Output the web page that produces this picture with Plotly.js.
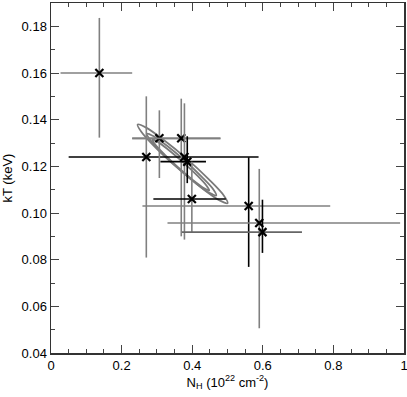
<!DOCTYPE html>
<html>
<head>
<meta charset="utf-8">
<script src="https://cdn.plot.ly/plotly-3.0.1.min.js"></script>
<style>
  body { margin: 0; background: #fff; }
  #chart { width: 407px; height: 397px; }
</style>
</head>
<body>
<div id="chart"></div>
<script>
// best-fit values with their error ranges
var nh   = [0.137, 0.270, 0.307, 0.369, 0.378, 0.386, 0.399, 0.560, 0.590, 0.599];
var nhLo = [0.027, 0.050, 0.230, 0.230, 0.378, 0.310, 0.290, 0.259, 0.330, 0.371];
var nhHi = [0.230, 0.588, 0.480, 0.480, 0.378, 0.439, 0.495, 0.791, 0.989, 0.711];
var kt   = [0.160, 0.124, 0.132, 0.132, 0.124, 0.122, 0.106, 0.103, 0.0957, 0.0918];
var ktLo = [0.1323, 0.0809, 0.115, 0.090, 0.0886, 0.1128, 0.0914, 0.0769, 0.0506, 0.0829];
var ktHi = [0.1836, 0.150, 0.144, 0.149, 0.147, 0.1329, 0.122, 0.1239, 0.1189, 0.1057];

// confidence contours (outline points)
var c1x = [0.5004, 0.4775, 0.4263, 0.3607, 0.2984, 0.2563, 0.2453, 0.2682, 0.3194, 0.3850, 0.4472, 0.4894, 0.5004];
var c1y = [0.1042, 0.1054, 0.1108, 0.1190, 0.1277, 0.1347, 0.1379, 0.1367, 0.1313, 0.1232, 0.1144, 0.1075, 0.1042];
var c2x = [0.4682, 0.4503, 0.4110, 0.3604, 0.3126, 0.2801, 0.2714, 0.2894, 0.3287, 0.3793, 0.4272, 0.4600, 0.4682];
var c2y = [0.1075, 0.1085, 0.1127, 0.1192, 0.1260, 0.1315, 0.1340, 0.1330, 0.1288, 0.1224, 0.1155, 0.1101, 0.1075];
var c3x = [0.4484, 0.4342, 0.4023, 0.3612, 0.3219, 0.2948, 0.2871, 0.3013, 0.3332, 0.3743, 0.4139, 0.4407, 0.4484];
var c3y = [0.1097, 0.1106, 0.1141, 0.1194, 0.1250, 0.1294, 0.1315, 0.1306, 0.1270, 0.1217, 0.1161, 0.1117, 0.1097];

// tick positions
var xTicks = [0, 0.2, 0.4, 0.6, 0.8, 1];
var xTickText = ["0", "0.2", "0.4", "0.6", "0.8", "1"];
var yTicks = [0.04, 0.06, 0.08, 0.10, 0.12, 0.14, 0.16, 0.18];
var yTickText = ["0.04", "0.06", "0.08", "0.10", "0.12", "0.14", "0.16", "0.18"];

// bar colours per point (style, kept apart from the values)
var gray = "#808080";
var xbarColor = [gray, "#000", gray, gray, gray, "#000", "#000", gray, gray, "#666"];
var ybarColor = [gray, gray, gray, gray, gray, "#000", gray, "#000", gray, "#000"];

var data = [];

[[c1x, c1y], [c2x, c2y], [c3x, c3y]].forEach(function (c) {
	data.push({
		mode: "lines",
		x: c[0],
		y: c[1],
		hoverinfo: "skip",
		line: { color: "#7a7a7a", width: 1.8, shape: "spline", smoothing: 1 }
	});
});

for (var i = 0; i < nh.length; i++) {
	data.push({
		mode: "markers",
		x: [nh[i]],
		y: [kt[i]],
		marker: { symbol: "x-thin", size: 8, color: "#000", line: { color: "#000", width: 2.2 } },
		error_x: {
			type: "data", symmetric: false,
			array: [nhHi[i] - nh[i]], arrayminus: [nh[i] - nhLo[i]],
			color: xbarColor[i], thickness: 1.6, width: 0
		},
		error_y: {
			type: "data", symmetric: false,
			array: [ktHi[i] - kt[i]], arrayminus: [kt[i] - ktLo[i]],
			color: ybarColor[i], thickness: 1.6, width: 0
		}
	});
}

var font = { family: "Liberation Sans, Arial, sans-serif", size: 13, color: "#000" };

var layout = {
	width: 407,
	height: 397,
	margin: { l: 51, r: 3, t: 3, b: 44 },
	paper_bgcolor: "#fff",
	plot_bgcolor: "#fff",
	showlegend: false,
	font: font,
	xaxis: {
		range: [0, 1],
		tickmode: "array",
		tickvals: xTicks,
		ticktext: xTickText,
		ticklabeloverflow: "allow",
		ticks: "inside",
		ticklen: 8,
		tickcolor: "#444",
		minor: { dtick: 0.05, ticks: "inside", ticklen: 4, tickcolor: "#444" },
		showline: true,
		linecolor: "#333",
		linewidth: 1.5,
		mirror: "ticks",
		showgrid: false,
		zeroline: false,
		tickfont: font,
		title: { text: "N<sub>H</sub> (10<sup>22</sup> cm<sup>-2</sup>)", font: font, standoff: 4 }
	},
	yaxis: {
		range: [0.04, 0.19],
		tickmode: "array",
		tickvals: yTicks,
		ticktext: yTickText,
		ticks: "inside",
		ticklen: 8,
		tickcolor: "#444",
		minor: { dtick: 0.01, ticks: "inside", ticklen: 4, tickcolor: "#444" },
		showline: true,
		linecolor: "#333",
		linewidth: 1.5,
		mirror: "ticks",
		showgrid: false,
		zeroline: false,
		tickfont: font,
		title: { text: "kT (keV)", font: font, standoff: 6 }
	}
};

Plotly.newPlot("chart", data, layout, { displayModeBar: false, staticPlot: true });
</script>
</body>
</html>
